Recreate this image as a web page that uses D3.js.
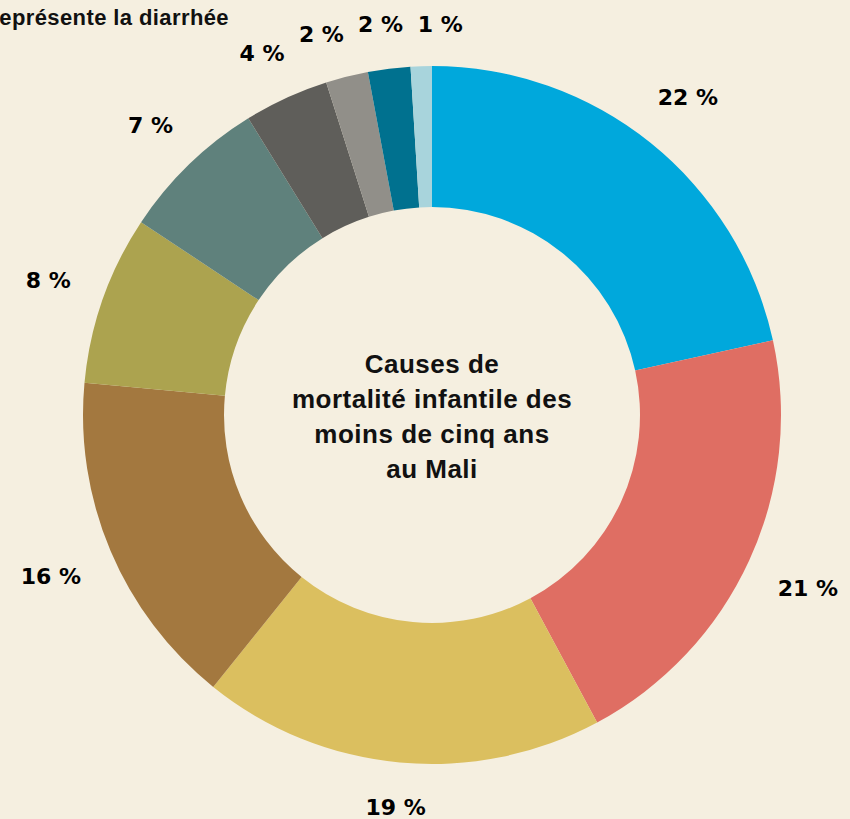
<!DOCTYPE html>
<html>
<head>
<meta charset="utf-8">
<script src="https://cdn.jsdelivr.net/npm/d3@7"></script>
<style>
  html, body { margin: 0; padding: 0; background: #f5efe0; }
  svg { display: block; }
  .lbl { font-family: "DejaVu Sans", sans-serif; font-weight: bold; fill: #000; }
  .title { font-family: "Liberation Sans", Arial, sans-serif; font-weight: bold; fill: #111; }
</style>
</head>
<body>
<svg width="850" height="819"></svg>
<script>
// data
var causes = ["c1", "c2", "c3", "c4", "c5", "c6", "c7", "c8", "c9", "c10"];
var values = [22, 21, 19, 16, 8, 7, 4, 2, 2, 1];
var colors = ["#00a8dc", "#df6e63", "#dbbf5f", "#a3783f", "#aca34f",
              "#5f817c", "#5f5e5a", "#918f89", "#00718f", "#a8d4dc"];
var titleLines = ["Causes de", "mortalité infantile des", "moins de cinq ans", "au Mali"];

var w = 850, h = 819;
var cx = 432, cy = 415;
var outerR = 349, innerR = 208, labelGap = 34;

var svg = d3.select("svg");

var pie = d3.pie().sort(null).value(function(d) { return d; });
var arcs = pie(values);

var arc = d3.arc().innerRadius(innerR).outerRadius(outerR);

var g = svg.append("g").attr("transform", "translate(" + cx + "," + cy + ")");

g.selectAll("path.slice")
  .data(arcs)
  .enter()
  .append("path")
  .classed("slice", true)
  .attr("d", arc)
  .attr("fill", function(d, i) { return colors[i]; });

var labels = g.selectAll("text.lbl")
  .data(arcs)
  .enter()
  .append("text")
  .classed("lbl", true)
  .attr("text-anchor", "middle")
  .attr("dy", "0.36em")
  .style("font-size", "22px")
  .text(function(d) { return d.data + " %"; });

// place labels just outside the ring, pushing crowded ones apart
var lab = [];
labels.each(function(d) {
  var bb = this.getBBox();
  lab.push({ a: (d.startAngle + d.endAngle) / 2, hw: bb.width / 2, hh: 8 });
});

function pos(l) {
  var r = outerR + labelGap + Math.abs(l.hw * Math.sin(l.a)) + Math.abs(l.hh * Math.cos(l.a));
  return [r * Math.sin(l.a), -r * Math.cos(l.a)];
}

for (var k = 0; k < 300; k++) {
  for (var i = 0; i < lab.length - 1; i++) {
    var p = pos(lab[i]), q = pos(lab[i + 1]);
    var ox = (lab[i].hw + lab[i + 1].hw + 14) - Math.abs(p[0] - q[0]);
    var oy = (lab[i].hh + lab[i + 1].hh + 6) - Math.abs(p[1] - q[1]);
    if (ox > 0 && oy > 0) {
      lab[i].a -= 0.002;
      lab[i + 1].a += 0.002;
    }
  }
}

labels.attr("transform", function(d, i) { return "translate(" + pos(lab[i]) + ")"; });

// centre title
g.selectAll("text.title")
  .data(titleLines)
  .enter()
  .append("text")
  .classed("title", true)
  .attr("text-anchor", "middle")
  .attr("y", function(d, i) { return -42 + i * 35; })
  .style("font-size", "26px")
  .style("letter-spacing", "0.5px")
  .text(function(d) { return d; });

// cropped caption top-left
svg.append("text")
  .classed("title", true)
  .attr("x", 229)
  .attr("y", 25)
  .attr("text-anchor", "end")
  .style("font-size", "22px")
  .style("letter-spacing", "0.4px")
  .text("représente la diarrhée");
</script>
</body>
</html>
